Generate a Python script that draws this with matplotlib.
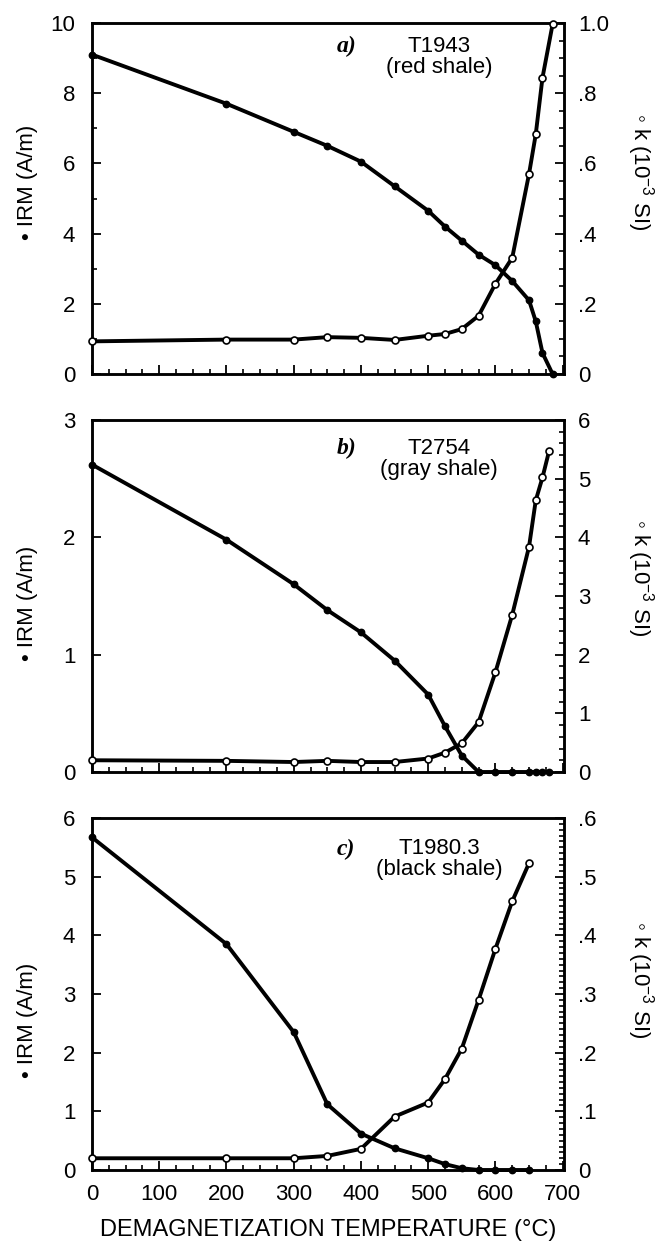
import matplotlib
matplotlib.use('Agg')
import matplotlib.pyplot as plt
from matplotlib.ticker import MultipleLocator, FuncFormatter

plt.rcParams['font.family'] = ['Liberation Sans', 'DejaVu Sans']
plt.rcParams['mathtext.fontset'] = 'custom'
plt.rcParams['mathtext.rm'] = 'Liberation Sans'
plt.rcParams['mathtext.it'] = 'Liberation Sans:italic'

# demagnetization temperatures (deg C)
temps_a = [0, 200, 300, 350, 400, 450, 500, 525, 550, 575, 600, 625, 650, 660, 670, 685]
temps_b = [0, 200, 300, 350, 400, 450, 500, 525, 550, 575, 600, 625, 650, 660, 670, 680]
temps_c = [0, 200, 300, 350, 400, 450, 500, 525, 550, 575, 600, 625, 650]

# IRM (A/m)
irm_a = [9.1, 7.7, 6.9, 6.5, 6.05, 5.35, 4.65, 4.2, 3.8, 3.4, 3.1, 2.65, 2.1, 1.5, 0.6, 0.0]
irm_b = [2.62, 1.98, 1.6, 1.38, 1.19, 0.95, 0.66, 0.39, 0.14, 0.0, 0.0, 0.0, 0.0, 0.0, 0.0, 0.0]
irm_c = [5.67, 3.85, 2.35, 1.12, 0.62, 0.37, 0.20, 0.10, 0.03, 0.0, 0.0, 0.0, 0.0]

# susceptibility k (10^-3 SI)
k_a = [0.093, 0.098, 0.098, 0.105, 0.103, 0.097, 0.109, 0.114, 0.128, 0.166, 0.257, 0.331, 0.57, 0.683, 0.844, 0.996]
k_b = [0.20, 0.19, 0.17, 0.19, 0.17, 0.17, 0.23, 0.33, 0.49, 0.85, 1.70, 2.68, 3.84, 4.63, 5.02, 5.48]
k_c = [0.020, 0.020, 0.020, 0.024, 0.036, 0.091, 0.115, 0.155, 0.207, 0.29, 0.377, 0.458, 0.523]

tags = ['a)', 'b)', 'c)']
samples = ['T1943\n(red shale)', 'T2754\n(gray shale)', 'T1980.3\n(black shale)']

W, H = 656, 1247
fig = plt.figure(figsize=(W / 100, H / 100), dpi=100)

# pixel boxes of the three panels: (top, bottom)
boxes = [(23, 374), (420, 772), (818, 1170)]
left_px, right_px = 92, 564

left_lims = [(0, 10), (0, 3), (0, 6)]
left_major = [2, 1, 1]
left_minor = [1, None, None]
right_lims = [(0, 1.0), (0, 6), (0, 0.6)]
right_major = [0.2, 1, 0.1]
right_minor = [0.05, 0.2, 0.01]

# label centres (pixel y)
left_lab_y = [182, 603, 1020]
right_lab_y = [172, 578, 980]
tag_y = [0.932, 0.918, 0.912]

FS = 16


def dot_fmt(v, pos):
    if abs(v) < 1e-9:
        return '0'
    if abs(v - 1.0) < 1e-9:
        return '1.0'
    return ('%.1f' % v)[1:]


temps_all = [temps_a, temps_b, temps_c]
irm_all = [irm_a, irm_b, irm_c]
k_all = [k_a, k_b, k_c]

for i in range(3):
    top, bot = boxes[i]
    ax = fig.add_axes([left_px / W, 1 - bot / H, (right_px - left_px) / W, (bot - top) / H])
    ax2 = ax.twinx()

    ax.plot(temps_all[i], irm_all[i], color='black', lw=2.8, marker='o', ms=4.6,
            mfc='black', mec='black', clip_on=False, zorder=3)
    ax2.plot(temps_all[i], k_all[i], color='black', lw=2.8, marker='o', ms=5.0,
             mfc='white', mec='black', mew=1.2, clip_on=False, zorder=3)

    ax.set_xlim(0, 702)
    ax.set_ylim(*left_lims[i])
    ax2.set_ylim(*right_lims[i])

    ax.xaxis.set_major_locator(MultipleLocator(100))
    ax.xaxis.set_minor_locator(MultipleLocator(25))
    ax.yaxis.set_major_locator(MultipleLocator(left_major[i]))
    if left_minor[i]:
        ax.yaxis.set_minor_locator(MultipleLocator(left_minor[i]))
    ax2.yaxis.set_major_locator(MultipleLocator(right_major[i]))
    ax2.yaxis.set_minor_locator(MultipleLocator(right_minor[i]))
    if i != 1:
        ax2.yaxis.set_major_formatter(FuncFormatter(dot_fmt))

    ax.tick_params(axis='both', which='major', direction='in', length=6.5, width=1.3,
                   labelsize=FS, pad=10)
    ax.tick_params(axis='y', which='major', pad=12)
    ax.tick_params(axis='both', which='minor', direction='in', length=3.5, width=1.2)
    ax.tick_params(axis='x', top=False)
    ax.tick_params(axis='y', right=False)
    ax2.tick_params(axis='y', which='major', direction='in', length=6.5, width=1.3,
                    labelsize=FS, pad=10)
    ax2.tick_params(axis='y', which='minor', direction='in', length=3.5, width=1.2)
    if i != 2:
        ax.tick_params(axis='x', labelbottom=False)

    for a in (ax, ax2):
        for s in a.spines.values():
            s.set_linewidth(1.8)

    ax.text(0.518, tag_y[i], tags[i], transform=ax.transAxes, fontsize=17,
            family='Liberation Serif', fontweight='bold', fontstyle='italic',
            ha='left', va='center')
    ax.text(0.735, tag_y[i] + 0.03, samples[i], transform=ax.transAxes, fontsize=16,
            ha='center', va='top', linespacing=0.95)

    fig.text(27 / W, 1 - left_lab_y[i] / H, '\u2022 IRM (A/m)', rotation=90,
             ha='center', va='center', fontsize=16)
    fig.text(640 / W, 1 - right_lab_y[i] / H, '\u25e6 k (10$^{-3}$ SI)', rotation=270,
             ha='center', va='center', fontsize=16)

fig.text((left_px + right_px) / 2 / W, 1 - 1230 / H, 'DEMAGNETIZATION TEMPERATURE (\u00b0C)',
         ha='center', va='center', fontsize=17)

fig.savefig('out.png', dpi=100)
